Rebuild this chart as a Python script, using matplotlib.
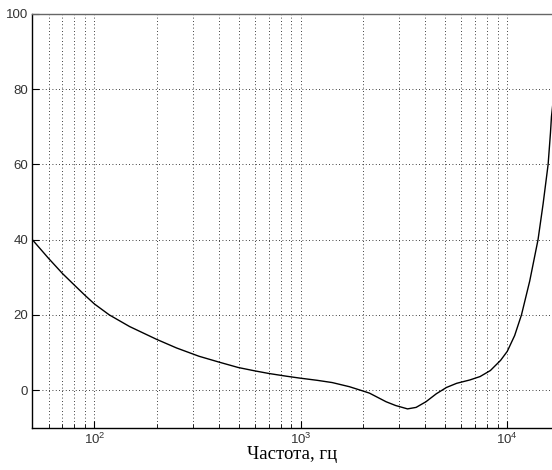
import matplotlib
matplotlib.use("Agg")
import matplotlib.pyplot as plt
from matplotlib.ticker import FixedLocator, LogLocator, NullFormatter, FixedFormatter

plt.rcParams["mathtext.fontset"] = "custom"
plt.rcParams["mathtext.rm"] = "Liberation Sans"
plt.rcParams["mathtext.it"] = "Liberation Sans"

# Data (frequency in Hz, level)
freq = [50, 60, 70, 80, 90, 100, 118, 148, 200, 250, 321, 404, 498, 600, 703,
        850, 985, 1200, 1420, 1720, 1990, 2150, 2590, 2880, 3290, 3620, 4040,
        4530, 5080, 5690, 6600, 7390, 8290, 9290, 10010, 10870, 11730, 12860,
        14110, 14930, 15790, 16210, 16390, 16600]
level = [40, 35.0, 31.0, 27.9, 25.2, 22.9, 20.0, 16.9, 13.5, 11.2, 9.0, 7.4, 6.0,
         5.1, 4.4, 3.7, 3.2, 2.6, 2.0, 0.9, -0.2, -0.8, -3.1, -4.1, -5.0, -4.6,
         -3.1, -1.0, 0.7, 1.8, 2.7, 3.6, 5.2, 7.9, 10.3, 14.5, 20.0, 29.0,
         40.0, 49.5, 60.0, 68.4, 72.7, 75.5]

yticks = [0, 20, 40, 60, 80, 100]
xticks = [1e2, 1e3, 1e4]
xticklabels = ["$10^2$", "$10^3$", "$10^4$"]
xlabel = "Частота, гц"

fig = plt.figure(figsize=(5.52, 4.70), dpi=100)
W, H = 552, 470
left, right, bottom, top = 32.3, 569.3, 427.7, 14.0
ax = fig.add_axes([left / W, (H - bottom) / H, (right - left) / W, (bottom - top) / H])

ax.plot(freq, level, color="black", lw=1.0)
ax.set_xscale("log")
ax.set_xlim(50, 20000)
ax.set_ylim(-10, 100)

ax.xaxis.set_major_locator(FixedLocator(xticks))
ax.xaxis.set_major_formatter(FixedFormatter(xticklabels))
ax.xaxis.set_minor_locator(LogLocator(base=10, subs=[2, 3, 4, 5, 6, 7, 8, 9], numticks=20))
ax.xaxis.set_minor_formatter(NullFormatter())
ax.yaxis.set_major_locator(FixedLocator(yticks))

ax.grid(True, which="major", axis="both", linestyle=(0, (1, 3)), color="black", lw=0.6)
ax.grid(True, which="minor", axis="x", linestyle=(0, (1, 3)), color="black", lw=0.6)

ax.tick_params(which="major", direction="in", length=5, width=0.8, labelsize=9.5,
               labelcolor="#333333", pad=3, top=False, right=False)
ax.tick_params(which="minor", direction="in", length=3, width=0.6, top=False, right=False)
for lab in ax.get_xticklabels() + ax.get_yticklabels():
    lab.set_family(["Liberation Sans", "DejaVu Sans"])

for s in ["left", "bottom"]:
    ax.spines[s].set_color("black")
    ax.spines[s].set_linewidth(1.0)
ax.spines["top"].set_color("#666666")
ax.spines["top"].set_linewidth(1.0)
ax.spines["right"].set_visible(False)

fig.text(292 / W, 1 - 459 / H, xlabel, ha="center", va="baseline",
         fontsize=13.5, family=["Liberation Serif", "DejaVu Serif"], color="black")

fig.savefig("out.png", dpi=100)
